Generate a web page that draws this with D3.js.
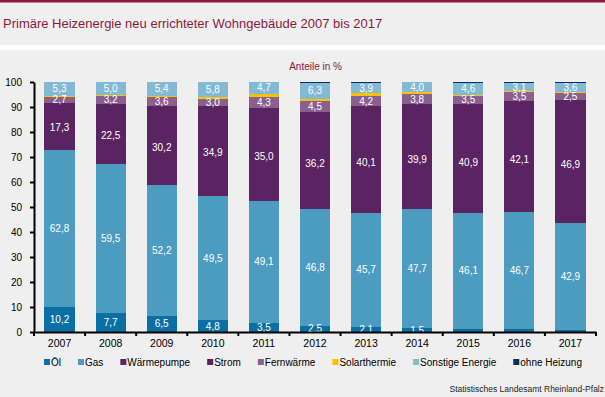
<!DOCTYPE html>
<html>
<head>
<meta charset="utf-8">
<script src="https://cdn.jsdelivr.net/npm/d3@7"></script>
<style>
  body { margin: 0; background: #eeefee; }
  svg { display: block; font-family: "Liberation Sans", Arial, sans-serif; }
</style>
</head>
<body>
<svg id="chart" width="605" height="397"></svg>
<script>
// Werte in Prozent
var years = ["2007", "2008", "2009", "2010", "2011", "2012", "2013", "2014", "2015", "2016", "2017"];
var oel = [10.2, 7.7, 6.5, 4.8, 3.5, 2.5, 2.1, 1.5, 1.4, 1.2, 0.8];
var gas = [62.8, 59.5, 52.2, 49.5, 49.1, 46.8, 45.7, 47.7, 46.1, 46.7, 42.9];
var waermepumpe = [17.3, 22.5, 30.2, 34.9, 35.0, 36.2, 40.1, 39.9, 40.9, 42.1, 46.9];
var strom = [1.2, 1.7, 1.6, 1.2, 2.2, 2.4, 2.4, 2.2, 2.7, 2.5, 2.4];
var fernwaerme = [2.7, 3.2, 3.6, 3.0, 4.3, 4.5, 4.2, 3.8, 3.5, 3.5, 2.5];
var solarthermie = [0.4, 0.4, 0.5, 0.8, 1.2, 0.9, 1.1, 0.9, 0.4, 0.4, 0.5];
var sonstige = [5.3, 5.0, 5.4, 5.8, 4.7, 6.3, 3.9, 4.0, 4.6, 3.1, 3.6];
var ohneHeizung = [0, 0, 0, 0, 0, 0.4, 0.5, 0, 0.4, 0.5, 0.4];
var yTicks = [0, 10, 20, 30, 40, 50, 60, 70, 80, 90, 100];

var series = [
  {key: "oel", name: "Öl", values: oel, color: "#0b6fa3", label: true},
  {key: "gas", name: "Gas", values: gas, color: "#4b9cc0", label: true},
  {key: "wp", name: "Wärmepumpe", values: waermepumpe, color: "#5a2361", label: true},
  {key: "strom", name: "Strom", values: strom, color: "#5a2361", label: false},
  {key: "fern", name: "Fernwärme", values: fernwaerme, color: "#8a5f8e", label: true},
  {key: "solar", name: "Solarthermie", values: solarthermie, color: "#ffc000", label: false},
  {key: "sonst", name: "Sonstige Energie", values: sonstige, color: "#82b9d4", label: true},
  {key: "ohne", name: "ohne Heizung", values: ohneHeizung, color: "#0c2a66", label: false}
];

var svg = d3.select("#chart");
var W = 605, H = 397;
var maroon = "#8b1a3c";

// Kopfbereich
svg.append("rect").attr("width", W).attr("height", H).attr("fill", "#eeefee");
svg.append("rect").attr("width", W).attr("height", 2.5).attr("fill", maroon);
svg.append("rect").attr("y", 45).attr("width", W).attr("height", 5).attr("fill", "#ffffff");
svg.append("text")
  .attr("x", 3).attr("y", 28)
  .attr("font-size", 13).attr("fill", maroon)
  .text("Primäre Heizenergie neu errichteter Wohngebäude 2007 bis 2017");
svg.append("text")
  .attr("x", 342).attr("y", 70).attr("text-anchor", "end")
  .attr("font-size", 10).attr("fill", maroon)
  .text("Anteile in %");

// Daten als Tabelle für d3.stack
var table = years.map(function(y, i) {
  var row = {year: y};
  series.forEach(function(s) { row[s.key] = s.values[i]; });
  return row;
});
var stacked = d3.stack().keys(series.map(function(s) { return s.key; }))(table);

var x = d3.scaleBand().domain(years).range([34, 596]).paddingInner(0.41).paddingOuter(0.205);
var y = d3.scaleLinear().domain([0, 100]).range([332, 82]);

var fmt = function(v) { return d3.format(".1f")(v).replace(".", ","); };

var layers = svg.append("g").attr("shape-rendering", "crispEdges").selectAll("g")
  .data(stacked)
  .enter().append("g")
    .attr("fill", function(d, i) { return series[i].color; });

layers.selectAll("rect")
  .data(function(d) { return d; })
  .enter().append("rect")
    .attr("x", function(d) { return x(d.data.year); })
    .attr("width", x.bandwidth())
    .attr("y", function(d) { return y(d[1]); })
    .attr("height", function(d) { return y(d[0]) - y(d[1]); });

// Beschriftungen in den Segmenten
stacked.forEach(function(layer, i) {
  if (!series[i].label) return;
  svg.append("g").selectAll("text")
    .data(layer.filter(function(d) { return (d[1] - d[0]) >= 1.5; }))
    .enter().append("text")
      .attr("x", function(d) { return x(d.data.year) + x.bandwidth() / 2; })
      .attr("y", function(d) { return (y(d[0]) + y(d[1])) / 2 + 3.5; })
      .attr("text-anchor", "middle")
      .attr("font-size", 10)
      .attr("fill", "#ffffff")
      .text(function(d) { return fmt(d[1] - d[0]); });
});

// y-Achse
var yAxis = svg.append("g")
  .attr("transform", "translate(34,0)")
  .call(d3.axisLeft(y).tickValues(yTicks).tickSize(4).tickPadding(8).tickSizeOuter(0));
yAxis.select(".domain").attr("stroke", "#000").attr("stroke-width", 2);
yAxis.selectAll(".tick line").attr("stroke", "#000").attr("stroke-width", 2);
yAxis.selectAll("text").attr("font-size", 10).attr("fill", "#000")
  .attr("font-family", "Liberation Sans, Arial, sans-serif");

// x-Achse
var xAxis = svg.append("g")
  .attr("transform", "translate(0,332)")
  .call(d3.axisBottom(x).tickSize(0).tickPadding(8));
xAxis.select(".domain").attr("stroke", "#000").attr("stroke-width", 2);
xAxis.selectAll("text").attr("font-size", 10.5).attr("fill", "#000")
  .attr("font-family", "Liberation Sans, Arial, sans-serif");
// Trennstriche zwischen den Jahren
var bounds = years.map(function(yr) { return x(yr) - x.step() * x.paddingInner() / 2; });
bounds.push(596);
xAxis.selectAll("line.sep")
  .data(bounds)
  .enter().append("line")
    .attr("class", "sep")
    .attr("x1", function(d) { return d; }).attr("x2", function(d) { return d; })
    .attr("y1", 0).attr("y2", 4)
    .attr("stroke", "#000").attr("stroke-width", 2);

// Legende
var legend = svg.append("g").attr("transform", "translate(44,0)");
var lx = 0;
series.forEach(function(s) {
  var item = legend.append("g").attr("transform", "translate(" + lx + ",0)");
  item.append("rect").attr("x", 0).attr("y", 359).attr("width", 6).attr("height", 6).attr("fill", s.color);
  var t = item.append("text").attr("x", 7).attr("y", 365.5)
    .attr("font-size", 10).attr("fill", "#000").text(s.name);
  lx += 7 + t.node().getComputedTextLength() + 17;
});

svg.append("text")
  .attr("x", 604).attr("y", 392).attr("text-anchor", "end")
  .attr("font-size", 8.5).attr("fill", "#222")
  .text("Statistisches Landesamt Rheinland-Pfalz");
</script>
</body>
</html>
